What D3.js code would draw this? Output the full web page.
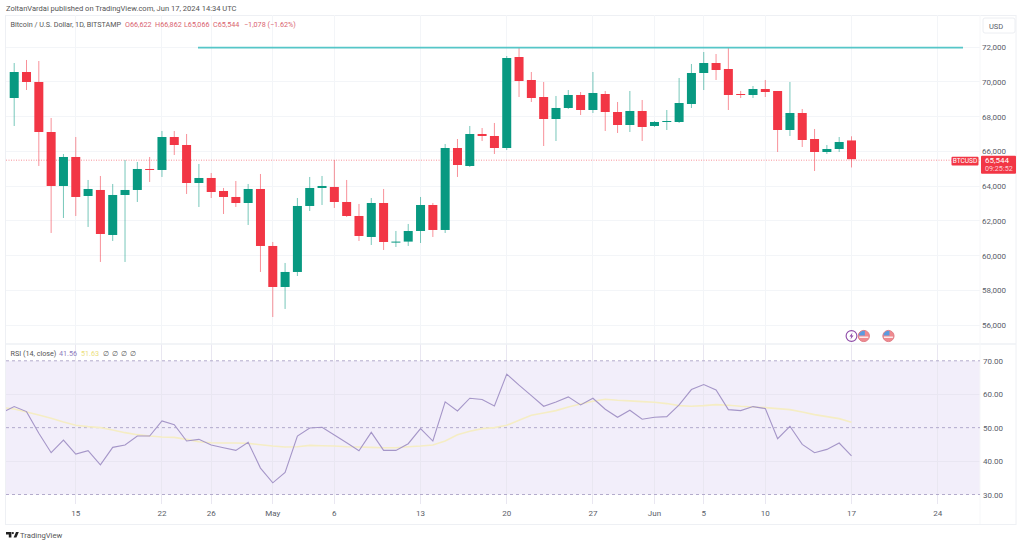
<!DOCTYPE html>
<html><head><meta charset="utf-8">
<style>html,body{margin:0;padding:0;background:#fff}svg{display:block}text{font-family:"Roboto","Liberation Sans",sans-serif}</style>
<script src="https://cdnjs.cloudflare.com/ajax/libs/d3/7.8.5/d3.min.js"></script>
</head><body><svg id="c" width="1024" height="545"></svg>
<script>
const opens  = [69065,70561,69986,67108,64001,65670,63425,63771,61181,63483,63771,64979,64922,66820,66360,64173,64461,63713,63368,63022,63828,60548,58188,59052,62850,63886,63943,63080,62274,61066,63022,60778,60800,61411,62907,61469,66187,65152,66993,66878,66187,71424,70101,69122,67856,68490,69238,68374,69295,68259,67511,68317,67454,67684,67684,68720,70504,71079,70734,69295,69238,69583,69468,67223,68202,66705,65957,66130,66622];
const highs  = [71079,71252,71194,67914,65842,66820,64346,64576,64116,65497,65382,65670,67166,67166,66993,65267,64749,63886,64288,64116,64691,60778,59570,63310,64519,64576,65497,64346,62965,63310,63828,61411,61814,63368,63022,66418,66705,67454,67338,67626,71482,71942,70561,69986,69180,69525,69410,70561,69468,68835,69468,68950,67741,68374,70216,71022,71712,71597,71942,69468,69755,70101,69468,69986,68432,67281,66360,66820,66862];
const lows   = [67454,69525,65152,61296,62159,62274,61641,59627,60836,59627,63080,64231,64519,65785,63540,62792,63310,62389,62792,61756,59052,56461,56922,58820,62562,62907,62735,62216,60836,60605,60318,60490,60548,60720,61066,61296,64519,65094,66590,65842,66072,69122,68835,66302,66590,68432,68087,68202,67166,67051,67108,66590,67396,67223,67626,68490,69525,70101,68374,69065,69065,69122,65957,66878,66245,64864,65842,65957,65066];
const closes = [70561,69986,67108,64001,65670,63368,63828,61238,63483,63771,64979,64922,66820,66360,64173,64461,63655,63368,63022,63828,60548,58188,59052,62850,63886,64001,63080,62274,61123,63022,60778,60800,61411,62907,61469,66187,65209,66993,66878,66187,71367,70043,69065,67856,68490,69238,68374,69353,68259,67511,68317,67396,67684,67741,68777,70504,71079,70676,69238,69270,69583,69410,67223,68202,66648,65957,66130,66533,65544];
const rsiBefore = 54.5;
const rsi = [56.3,54.8,48.3,42.5,46.3,42.1,43.1,38.9,44.1,44.8,47.5,47.5,52,50.9,46,46.5,44.8,44,43.2,45.6,37.9,33.5,36.6,47.5,49.9,50.1,47.8,45.5,43.1,48.6,43.2,43.2,45.2,49.7,46,57.7,55,58.8,58.4,56.5,66,62.7,59.6,56.4,57.7,59.2,56.8,58.8,55.5,53.1,55.2,52.5,53.1,53.3,56.8,61.4,62.9,61.3,55.4,55.1,56.3,55.7,46.7,50.4,45,42.5,43.5,45.4,41.56];
const rsiMaBefore = 56;
const rsiMa = [55.6,54.7,53.8,52.8,51.7,50.7,50.3,50,49.3,48.5,47.9,47.5,47.2,47.1,46.5,45.8,45.5,45.4,45.4,45.3,44.9,44.5,44.2,44.3,44.7,44.6,44.5,44.3,44.2,44.1,44,44,44.3,44.5,44.8,46,47.9,48.9,49.7,50,50.7,52.2,53.7,54.4,55.1,56.2,57.1,57.9,58.5,58.2,58,57.8,57.6,57.2,56.6,56.4,56.6,56.9,56.7,56.4,56.2,56,55.7,55.4,54.7,53.9,53.3,52.7,51.63];
const resistancePrice = 71960;
const priceTicks = [56000,58000,60000,62000,64000,66000,68000,70000,72000];
const rsiTicks = [30,40,50,60,70];
const rsiGuides = [30,50,70];
const dayTicks = [[5,"15"],[12,"22"],[16,"26"],[21,"May"],[26,"6"],[33,"13"],[40,"20"],[47,"27"],[52,"Jun"],[56,"5"],[61,"10"],[68,"17"],[75,"24"]];
const flagDays = [69,71];

const GREEN="#089981", RED="#f23645", INK="#5a5e69", GRID="#f3f5f8", FRAME="#eef0f4";
const svg=d3.select("#c");
const L=6,R=980,FR=1016,T=15,PB=344,BOT=524;
const x=d3.scaleLinear().domain([0,68]).range([14.2,851.5]);
const y=d3.scaleLinear().domain([56000,72000]).range([325,47]);
const ry=d3.scaleLinear().domain([30,70]).range([494.5,360.8]);
svg.append("defs").append("clipPath").attr("id","plot").append("rect").attr("x",L).attr("y",T).attr("width",R-L).attr("height",BOT-T);
const fnum=d3.format(",");

// frame
svg.append("rect").attr("x",L-.5).attr("y",T+.5).attr("width",FR-L+.5).attr("height",BOT-T).attr("fill","none").attr("stroke",FRAME);
// rsi band
svg.append("rect").attr("x",L).attr("y",ry(70)).attr("width",R-L).attr("height",ry(30)-ry(70)).attr("fill","#f2eefa");
// grids
const grid=svg.append("g").attr("stroke",GRID).attr("shape-rendering","crispEdges");
grid.selectAll(".h").data(priceTicks).join("line").attr("x1",L).attr("x2",R).attr("y1",d=>y(d)).attr("y2",d=>y(d));
grid.selectAll(".v").data(dayTicks).join("line").attr("x1",d=>x(d[0])).attr("x2",d=>x(d[0])).attr("y1",T).attr("y2",PB);
grid.selectAll(".v2").data(dayTicks).join("line").attr("x1",d=>x(d[0])).attr("x2",d=>x(d[0])).attr("y1",PB).attr("y2",504).attr("stroke","#e9e7f1");
grid.selectAll(".r").data([40,60]).join("line").attr("x1",L).attr("x2",R).attr("y1",d=>ry(d)).attr("y2",d=>ry(d)).attr("stroke","#e9e6f2");
svg.append("line").attr("x1",L).attr("x2",FR).attr("y1",PB).attr("y2",PB).attr("stroke",FRAME).attr("stroke-width",1.5);
svg.append("line").attr("x1",R).attr("x2",R).attr("y1",T).attr("y2",BOT).attr("stroke","#f6f7f9");
svg.selectAll(".g").data(rsiGuides).join("line").attr("x1",L).attr("x2",R).attr("y1",d=>ry(d)).attr("y2",d=>ry(d))
  .attr("stroke","#b3abcc").attr("stroke-dasharray","3 3").attr("stroke-width",1);

// price line
const py=y(closes[68])+1;
svg.append("line").attr("x1",L).attr("x2",R).attr("y1",py).attr("y2",py).attr("stroke",RED).attr("stroke-opacity",.55).attr("stroke-dasharray","1 1.5");

// candles
const idx=d3.range(closes.length);
const cg=svg.append("g").attr("clip-path","url(#plot)");
const color=i=>closes[i]>=opens[i]?GREEN:RED;
cg.selectAll(".w").data(idx).join("line").attr("x1",x).attr("x2",x).attr("y1",i=>y(highs[i])).attr("y2",i=>y(lows[i]))
  .attr("stroke",color).attr("stroke-width",1).attr("stroke-opacity",.55);
cg.selectAll(".b").data(idx).join("rect").attr("x",i=>x(i)-4.5).attr("width",9)
  .attr("y",i=>Math.min(y(opens[i]),y(closes[i]))).attr("height",i=>Math.max(1,Math.abs(y(opens[i])-y(closes[i]))))
  .attr("fill",color);

// resistance
svg.append("line").attr("x1",198).attr("x2",963).attr("y1",y(resistancePrice)).attr("y2",y(resistancePrice)).attr("stroke","#56c6c8").attr("stroke-width",1.8);

// rsi lines
const line=d3.line().x(d=>x(d[0])).y(d=>ry(d[1]));
const withBefore=(b,a)=>[[-1,b],...a.map((v,i)=>[i,v])];
cg.append("path").attr("d",line(withBefore(rsiMaBefore,rsiMa))).attr("fill","none").attr("stroke","#f5edc4").attr("stroke-width",1.6);
cg.append("path").attr("d",line(withBefore(rsiBefore,rsi))).attr("fill","none").attr("stroke","#a596c8").attr("stroke-width",1.1);

// USD box and price tags (below text)
svg.append("rect").attr("x",983).attr("y",18).attr("width",32).attr("height",15).attr("rx",2).attr("fill","#fff").attr("stroke","#eceef2");
svg.append("rect").attr("x",951.5).attr("y",py-3.5).attr("width",27).attr("height",8.8).attr("rx",1).attr("fill",RED);
svg.append("rect").attr("x",981).attr("y",py-4.5).attr("width",35).attr("height",18).attr("rx",1).attr("fill",RED);

// events
const ey=336;
const ev=svg.append("g");
ev.append("circle").attr("cx",x(68)).attr("cy",ey).attr("r",5.4).attr("fill","#fff").attr("stroke","#8e4ba8").attr("stroke-width",1.1);
ev.append("path").attr("transform",`translate(${x(68)},${ey})`).attr("d","M1,-3.4 L-2,.5 H-.2 L-1,3.4 L2,-.6 H.2 Z").attr("fill","#8e4ba8");
const fl=ev.selectAll(".f").data(flagDays).join("g").attr("transform",d=>`translate(${x(d)},${ey})`);
fl.append("circle").attr("r",5.6).attr("fill","#f08a8f").attr("stroke","#e0808a").attr("stroke-width",1);
fl.append("path").attr("d","M-4.5,-2.4 A5,5 0 0 1 1,-5 L1,-.5 L-5,-.5 Z").attr("fill","#5a9be0");
fl.append("rect").attr("x",-4.5).attr("y",.6).attr("width",9).attr("height",1.2).attr("fill","#fff");

// text on top
const at=svg.append("g");
const txt=(X,Y,s,size,fill,anchor)=>at.append("text").attr("x",X).attr("y",Y).attr("font-size",size).attr("fill",fill).attr("text-anchor",anchor||"start").text(s);
priceTicks.forEach(p=>txt(1006,y(p)+3,fnum(p),8,INK,"end"));
rsiTicks.forEach(r=>txt(1003,ry(r)+3,r.toFixed(2),8,INK,"end"));
dayTicks.forEach(d=>txt(x(d[0]),516,d[1],8,INK,"middle"));
txt(6,11,"ZoltanVardai published on TradingView.com, Jun 17, 2024 14:34 UTC",7.55,"#555");
txt(10.5,27,"Bitcoin / U.S. Dollar, 1D, BITSTAMP",7.2,"#555");
[[125,"O66,622"],[155,"H66,862"],[184,"L65,066"],[213,"C65,544"],[244,"\u22121,078 (\u22121.62%)"]].forEach(d=>txt(d[0],27,d[1],7.2,"#d9636f"));
txt(10.5,356,"RSI (14, close)",7.2,"#555");
txt(59,356,"41.56",7.2,"#8f80bd");
txt(81,356,"51.63",7.2,"#ece07c");
[103,112,121,130].forEach(X=>txt(X,356,"\u2205",7.2,"#555"));
txt(989,28.5,"USD",7.5,INK);
txt(965,py+3,"BTCUSD",6.6,"#fff","middle");
txt(985,py+3,fnum(closes[68]),8,"#fff");
txt(985,py+11,"09:25:52",7.2,"#fbd0d5");

// TradingView mark
const tv=svg.append("g").attr("fill","#222");
tv.append("path").attr("d","M6,532 h5.4 v5.6 h-2.6 v-3.2 h-2.8 Z");
tv.append("circle").attr("cx",12.8).attr("cy",533.1).attr("r",1.15);
tv.append("path").attr("d","M13.6,537.6 L16,532 h2.8 L16.4,537.6 Z");
txt(20,537.6,"TradingView",7.7,"#555");
</script></body></html>
